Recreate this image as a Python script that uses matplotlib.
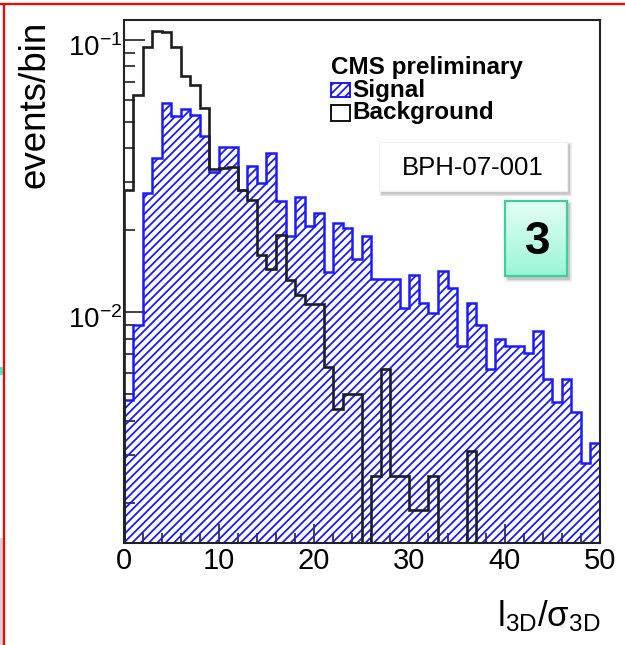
import numpy as np
import matplotlib
matplotlib.use("Agg")
import matplotlib.pyplot as plt
from matplotlib.patches import Rectangle
from matplotlib.lines import Line2D
from matplotlib.transforms import ScaledTranslation
from matplotlib.ticker import FixedLocator, LogLocator, NullFormatter, MultipleLocator

plt.rcParams['font.family'] = ['Liberation Sans', 'DejaVu Sans']
plt.rcParams['mathtext.fontset'] = 'custom'
plt.rcParams['mathtext.rm'] = 'Liberation Sans'
plt.rcParams['mathtext.it'] = 'Liberation Sans'
plt.rcParams['mathtext.bf'] = 'Liberation Sans:bold'
plt.rcParams['mathtext.sf'] = 'Liberation Sans'
plt.rcParams['hatch.linewidth'] = 1.3
plt.rcParams['hatch.color'] = '#3535ff'

# l3D / sigma3D histogram, 50 bins of unit width
bin_edges = np.arange(0, 51, 1)

signal = [0.00476, 0.00898, 0.0275, 0.0368, 0.0585, 0.0527, 0.0556, 0.0532, 0.0443, 0.0328,
          0.0404, 0.0404, 0.0281, 0.0345, 0.0299, 0.0384, 0.0257, 0.0190, 0.0264, 0.0208,
          0.0231, 0.0141, 0.0212, 0.0204, 0.0157, 0.0190, 0.0132, 0.0132, 0.0132, 0.0104,
          0.0137, 0.0108, 0.0099, 0.0142, 0.0123, 0.0075, 0.0108, 0.0090, 0.0062, 0.0080,
          0.0075, 0.0075, 0.0071, 0.0085, 0.0057, 0.0047, 0.0057, 0.0043, 0.0028, 0.0033]

background = [0.0281, 0.0628, 0.0945, 0.108, 0.107, 0.0945, 0.0735, 0.0686, 0.0563, 0.0337,
              0.0340, 0.0343, 0.0281, 0.0258, 0.0162, 0.0144, 0.0193, 0.0131, 0.0116, 0.0107,
              0.0107, 0.0063, 0.0044, 0.0050, 0.0050, 0.0, 0.0025, 0.0062, 0.0025, 0.0025,
              0.00188, 0.00188, 0.0025, 0.0, 0.0, 0.0, 0.0031, 0.0, 0.0, 0.0,
              0.0, 0.0, 0.0, 0.0, 0.0, 0.0, 0.0, 0.0, 0.0, 0.0]

x_major = [0, 10, 20, 30, 40, 50]
y_major = [1e-2, 1e-1]
y_major_labels = [r'$\mathregular{10^{-2}}$', r'$\mathregular{10^{-1}}$']

W, H = 625, 645


def fx(px):
    return px / W


def fy(py):
    return 1 - py / H


fig = plt.figure(figsize=(W / 100, H / 100), dpi=100)
fig.patch.set_facecolor('white')

ax = fig.add_axes([fx(123.5), fy(543), fx(600) - fx(123.5), fy(19.5) - fy(543)])
ax.set_yscale('log')
ax.set_xlim(0, 50)
ax.set_ylim(1.42e-3, 0.119)

floor = 1e-5
sig = np.clip(np.array(signal), floor, None)
bkg = np.clip(np.array(background), floor, None)

ax.stairs(sig, bin_edges, baseline=floor, fill=True, facecolor='none',
          edgecolor='#1a1aff', hatch='////', linewidth=1.8, zorder=2)
ax.stairs(bkg, bin_edges, baseline=floor, fill=False,
          edgecolor='#1e1e1e', linewidth=1.9, zorder=3)

for s in ax.spines.values():
    s.set_linewidth(1.5)
    s.set_color('#222222')
    s.set_zorder(5)

ax.xaxis.set_major_locator(FixedLocator(x_major))
ax.xaxis.set_minor_locator(MultipleLocator(2))
ax.yaxis.set_major_locator(FixedLocator(y_major))
ax.yaxis.set_minor_locator(LogLocator(base=10, subs=np.arange(2, 10)))
ax.yaxis.set_minor_formatter(NullFormatter())
ax.set_yticklabels(y_major_labels)

ax.tick_params(which='both', direction='in', top=False, right=False, color='#222222')
ax.tick_params(axis='x', which='major', length=14, width=1.2, labelsize=21, pad=3)
ax.tick_params(axis='x', which='minor', length=7, width=1.2)
ax.tick_params(axis='y', which='major', length=15, width=1.2, labelsize=20, pad=1)
ax.tick_params(axis='y', which='minor', length=8, width=1.2)

# drop the decade labels a little so the mantissa sits just under its tick
shift = ScaledTranslation(0, -5 / 100, fig.dpi_scale_trans)
for lab in ax.get_yticklabels():
    lab.set_transform(lab.get_transform() + shift)

# axis titles
fig.text(fx(45), fy(104), 'events/bin', rotation=90, fontsize=26.5,
         ha='center', va='baseline', rotation_mode='anchor')
fig.text(fx(600), fy(626), r'$\mathregular{l_{3D}/\sigma_{3D}}$', fontsize=25,
         ha='right', va='baseline')

# legend
fig.text(fx(331), fy(74), 'CMS preliminary', fontsize=17.5, fontweight='bold',
         ha='left', va='baseline')
fig.add_artist(Rectangle((fx(331), fy(96.5)), fx(350) - fx(331), fy(83) - fy(96.5),
                         transform=fig.transFigure, facecolor='white',
                         edgecolor='#1a1aff', hatch='////', linewidth=1.4, zorder=4))
fig.text(fx(352), fy(96.5), 'Signal', fontsize=17.5, fontweight='bold',
         ha='left', va='baseline')
fig.add_artist(Rectangle((fx(331), fy(120.5)), fx(350) - fx(331), fy(105.5) - fy(120.5),
                         transform=fig.transFigure, facecolor='white',
                         edgecolor='#111111', linewidth=1.4, zorder=4))
fig.text(fx(352), fy(118.5), 'Background', fontsize=17.5, fontweight='bold',
         ha='left', va='baseline')


def soft_shadow(x0, y0, x1, y1, dx=3, dy=3, steps=4, z=4):
    for i in range(steps):
        g = i * 0.8
        fig.add_artist(Rectangle((fx(x0 + dx - g), fy(y1 + dy + g)),
                                 fx(x1 - x0 + 2 * g), fy(0) - fy(y1 - y0 + 2 * g),
                                 transform=fig.transFigure, facecolor='black',
                                 edgecolor='none', alpha=0.06, zorder=z))


# report tag
soft_shadow(379, 142, 566.5, 191)
fig.add_artist(Rectangle((fx(379), fy(191)), fx(566.5) - fx(379), fy(142) - fy(191),
                         transform=fig.transFigure, facecolor='white',
                         edgecolor='#f0f0f0', linewidth=0.8, zorder=5))
fig.text(fx(472.5), fy(175), 'BPH-07-001', fontsize=18.5, ha='center', va='baseline', zorder=6)

# numbered badge with vertical gradient
soft_shadow(505, 201, 566.5, 276.5)
bax = fig.add_axes([fx(505), fy(276.5), fx(566.5) - fx(505), fy(201) - fy(276.5)])
bax.set_zorder(8)
top_c = np.array([0.90, 1.0, 0.965])
bot_c = np.array([0.60, 0.96, 0.84])
t = np.linspace(0, 1, 100)[:, None, None]
grad = top_c * (1 - t) + bot_c * t
grad = np.repeat(grad, 2, axis=1)
bax.imshow(grad, aspect='auto', extent=[0, 1, 0, 1], origin='upper', interpolation='bilinear')
bax.set_xticks([])
bax.set_yticks([])
for s in bax.spines.values():
    s.set_color('#3ccf9c')
    s.set_linewidth(1.6)
fig.text(fx(538), fy(253.5), '3', fontsize=33, fontweight='bold', ha='center',
         va='baseline', zorder=9)

# page frame
fig.add_artist(Line2D([0, 1], [fy(3.5), fy(3.5)], transform=fig.transFigure,
                      color='#ff0000', linewidth=1.6, zorder=10))
fig.add_artist(Line2D([fx(3.5), fx(3.5)], [0, fy(3.5)], transform=fig.transFigure,
                      color='#ff0000', linewidth=1.6, zorder=10))
fig.add_artist(Rectangle((0, fy(375)), fx(2.7), fy(367) - fy(375), transform=fig.transFigure,
                         facecolor='#40f0c0', edgecolor='none', zorder=9))
fig.add_artist(Rectangle((0, 0), fx(2.7), fy(538), transform=fig.transFigure,
                         facecolor='#d4d4d4', edgecolor='none', zorder=9))

fig.savefig('out.png', dpi=100)
